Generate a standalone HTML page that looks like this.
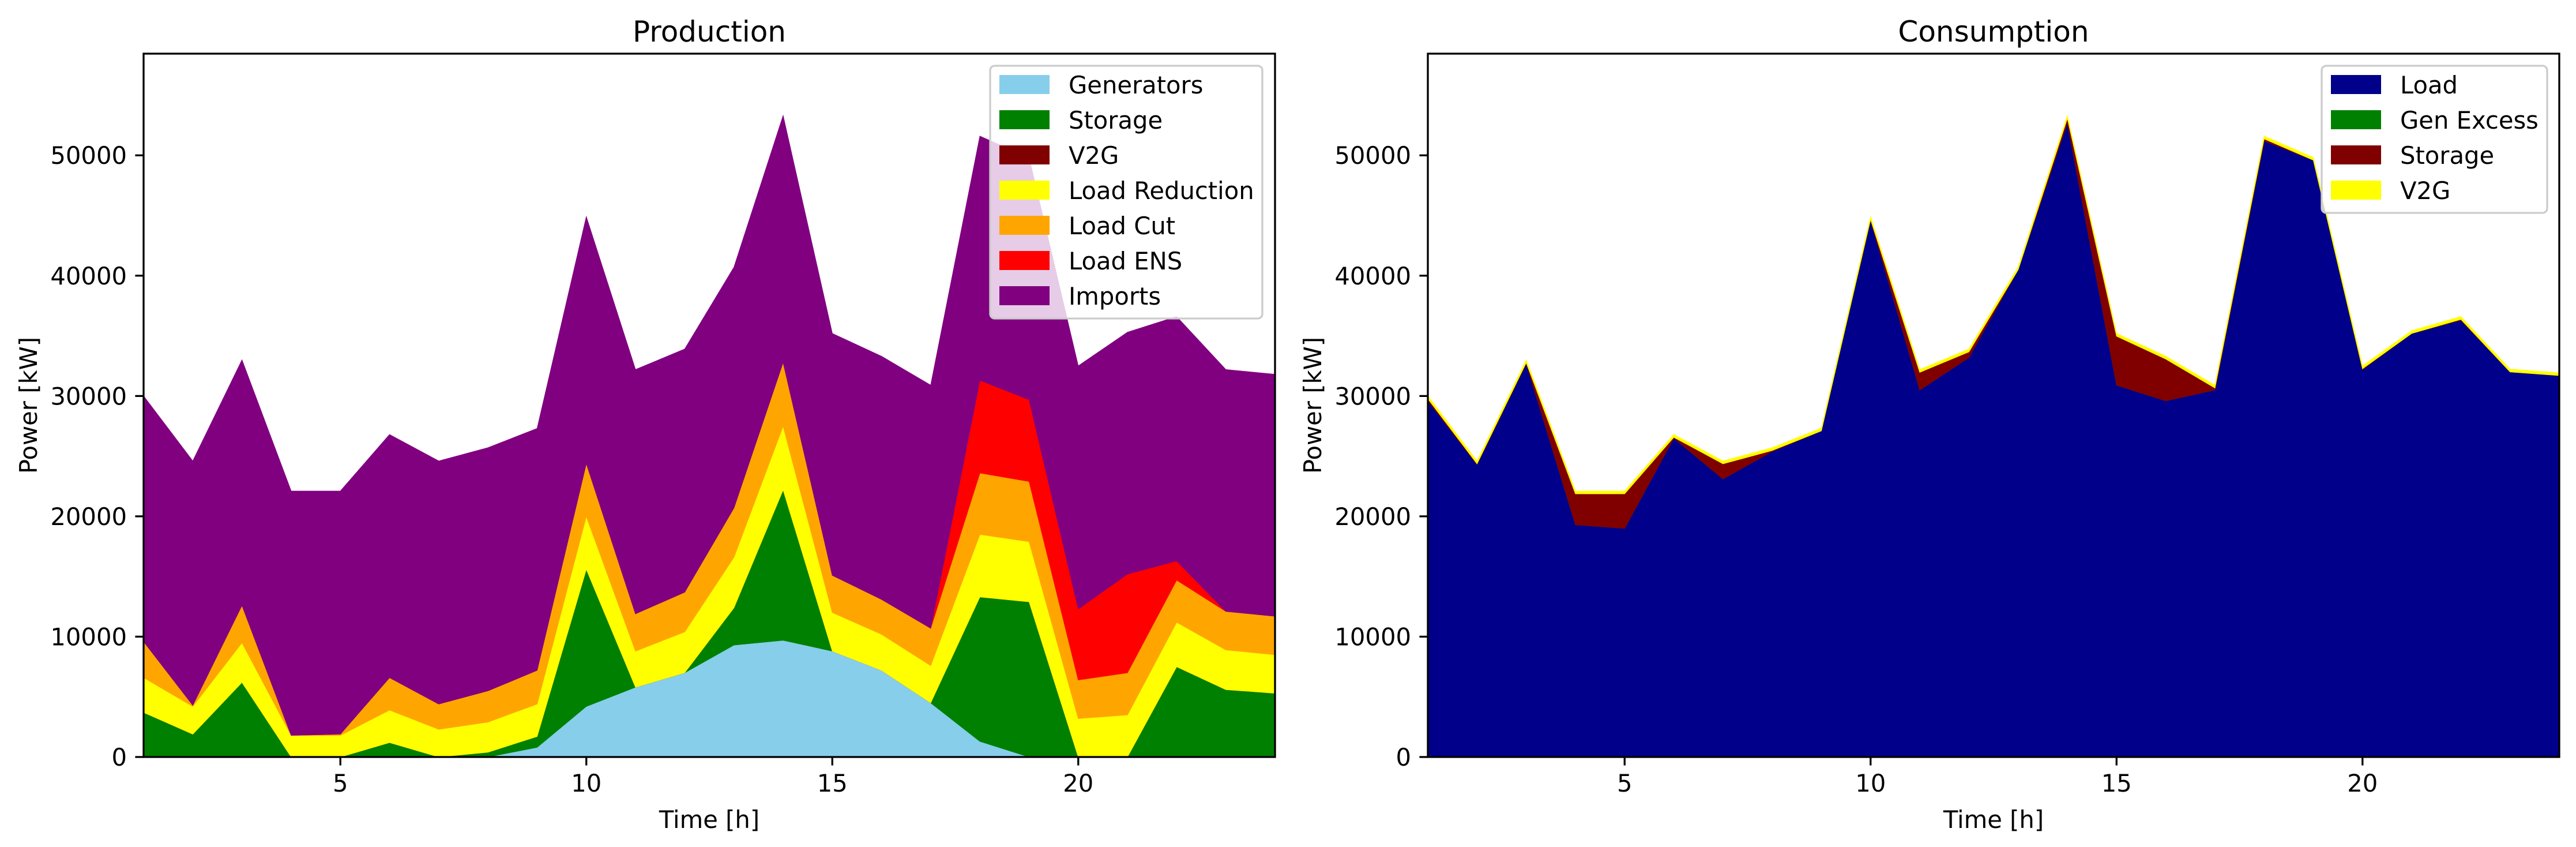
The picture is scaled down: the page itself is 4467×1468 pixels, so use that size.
<!DOCTYPE html>
<html><head><meta charset="utf-8">
<style>
html,body{margin:0;padding:0;background:#fff;}
svg{display:block;font-family:"DejaVu Sans","Liberation Sans",sans-serif;}
</style></head>
<body>
<svg id="fig" xmlns="http://www.w3.org/2000/svg" width="4467" height="1468" viewBox="0 0 4467 1468"></svg>
<script>
const hours = [1,2,3,4,5,6,7,8,9,10,11,12,13,14,15,16,17,18,19,20,21,22,23,24];
// Production series (kW)
const prodGenerators = [0,0,0,0,0,0,0,0,800,4200,5800,7000,9300,9700,8800,7200,4500,1300,0,0,0,0,0,0];
const prodStorage = [3700,1900,6200,0,0,1200,0,400,900,11400,0,0,3100,12500,0,0,0,12000,12900,0,0,7500,5600,5300];
const prodV2G = [0,0,0,0,0,0,0,0,0,0,0,0,0,0,0,0,0,0,0,0,0,0,0,0];
const prodLoadReduction = [2900,2300,3300,1800,1800,2700,2300,2500,2700,4400,3000,3400,4200,5300,3200,3000,3100,5200,5000,3200,3500,3700,3300,3200];
const prodLoadCut = [3000,100,3100,0,100,2700,2100,2600,2800,4400,3100,3300,4100,5300,3100,2900,3100,5100,5000,3200,3500,3500,3200,3200];
const prodLoadENS = [0,0,0,0,0,0,0,0,0,0,0,0,0,0,0,0,0,7700,6800,5900,8200,1600,0,0];
const prodImports = [20400,20300,20400,20300,20200,20200,20200,20200,20100,20500,20300,20200,20000,20500,20100,20200,20200,20300,20100,20200,20100,20300,20100,20100];
// Consumption series (kW)
const consLoad = [29600,24300,32700,19300,19000,26500,23100,25400,27100,44600,30500,33200,40500,52700,30900,29600,30500,51200,49600,32200,35200,36300,32000,31700];
const consGenExcess = [0,0,0,0,0,0,0,0,0,0,0,0,0,0,0,0,0,0,0,0,0,0,0,0];
const consStorage = [170,70,70,2570,2870,70,1270,70,0,70,1470,470,0,370,4070,3470,170,170,0,70,0,70,0,0];
const consV2G = [230,230,230,230,230,230,230,230,230,230,230,230,230,230,230,230,230,230,230,230,230,230,230,230];
const yTicks = [0,10000,20000,30000,40000,50000];
const xTicks = [5,10,15,20];
const prodLabels = ["Generators","Storage","V2G","Load Reduction","Load Cut","Load ENS","Imports"];
const consLabels = ["Load","Gen Excess","Storage","V2G"];

const NS="http://www.w3.org/2000/svg";
const svg=document.getElementById('fig');
function mk(tag,attrs,parent){const e=document.createElementNS(NS,tag);for(const k in attrs)e.setAttribute(k,attrs[k]);(parent||svg).appendChild(e);return e;}
const YMAX=58450, XMIN=1, XMAX=24;
const TOP=93, BOT=1312, W=1962;

function drawPanel(x0,title,series,colors,labels,names,legendX,legendW,lineOnTop,panelName){
  const g=mk('g',{});
  
  
  const sx=v=>x0+(v-XMIN)/(XMAX-XMIN)*W;
  const sy=v=>BOT-v/YMAX*(BOT-TOP);
  const cp=mk('clipPath',{id:'clip-'+panelName},g);
  mk('rect',{x:x0,y:TOP,width:W,height:BOT-TOP},cp);
  const area=mk('g',{'clip-path':'url(#clip-'+panelName+')'},g);
  let base=hours.map(()=>0);
  series.forEach((s,i)=>{
    const top=base.map((b,j)=>b+s[j]);
    let d='M'+hours.map((h,j)=>sx(h).toFixed(1)+','+sy(top[j]).toFixed(1)).join('L');
    for(let j=hours.length-1;j>=0;j--) d+='L'+sx(hours[j]).toFixed(1)+','+sy(base[j]).toFixed(1);
    d+='Z';
    const p=mk('path',{d:d,fill:colors[i],stroke:colors[i],'stroke-width':1},area);
    
    
    base=top;
  });
  const fr=mk('rect',{x:x0,y:TOP,width:W,height:BOT-TOP,fill:'none',stroke:'#000','stroke-width':3.3},g);
  
  
  yTicks.forEach(t=>{
    const y=sy(t);
    mk('line',{x1:x0-14.6,x2:x0,y1:y,y2:y,stroke:'#000','stroke-width':3.3},g);
    const tx=mk('text',{x:x0-29,y:y+15,'font-size':41.7,'text-anchor':'end',fill:'#000'},g);
    tx.textContent=t;
    
    
  });
  xTicks.forEach(t=>{
    const x=sx(t);
    mk('line',{x1:x,x2:x,y1:BOT,y2:BOT+14.6,stroke:'#000','stroke-width':3.3},g);
    const tx=mk('text',{x:x,y:BOT+60,'font-size':41.7,'text-anchor':'middle',fill:'#000'},g);
    tx.textContent=t;
    
    
  });
  const tt=mk('text',{x:x0+W/2,y:TOP-21,'font-size':50,'text-anchor':'middle',fill:'#000'},g);
  tt.textContent=title;
  
  
  const xl=mk('text',{x:x0+W/2,y:1435,'font-size':41.7,'text-anchor':'middle',fill:'#000'},g);
  xl.textContent='Time [h]';
  
  
  const lx=x0-185, ly=(TOP+BOT)/2;
  const yl=mk('text',{x:lx,y:ly,'font-size':41.7,'text-anchor':'middle',fill:'#000',transform:'rotate(-90 '+lx+' '+ly+')'},g);
  yl.textContent='Power [kW]';
  
  
  const lg=mk('g',{},g);
  
  
  const lh=438-(7-labels.length)*61;
  mk('rect',{x:legendX,y:114,width:legendW,height:lh,rx:8,fill:'#fff','fill-opacity':0.8,stroke:'#cccccc','stroke-width':3.3},lg);
  labels.forEach((lab,i)=>{
    const cy=147+i*61;
    const e=mk('g',{},lg);
    
    
    mk('rect',{x:legendX+16,y:cy-17,width:87,height:33,fill:colors[i]},e);
    const t=mk('text',{x:legendX+136,y:cy+15,'font-size':41.7,fill:'#000'},e);
    t.textContent=lab;
  });
}
drawPanel(249,'Production',
  [prodGenerators,prodStorage,prodV2G,prodLoadReduction,prodLoadCut,prodLoadENS,prodImports],
  ['#87ceeb','#008000','#800000','#ffff00','#ffa500','#ff0000','#800080'],
  prodLabels,
  ['area-generators','area-storage','area-v2g','area-load-reduction','area-load-cut','area-load-ens','area-imports'],
  1717,472,false,'production-chart');
drawPanel(2476,'Consumption',
  [consLoad,consGenExcess,consStorage,consV2G],
  ['#00008b','#008000','#800000','#ffff00'],
  consLabels,
  ['area-load','area-gen-excess','area-storage','area-v2g'],
  4026,391,true,'consumption-chart');
</script>
</body></html>
